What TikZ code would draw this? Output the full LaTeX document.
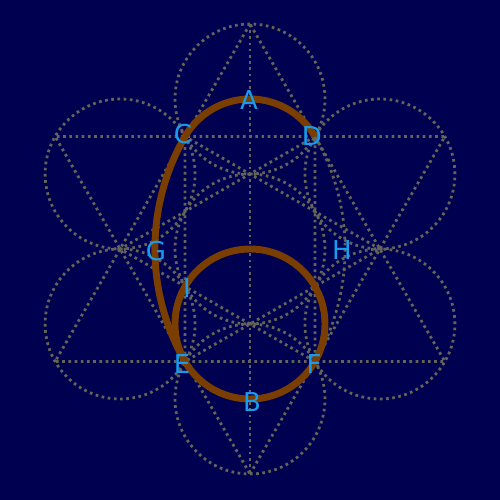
\documentclass[tikz,border=0pt]{standalone}
\usepackage{fontspec}
\newfontfamily\labelfont{DejaVu Sans}
\definecolor{bg}{RGB}{0,0,80}
\definecolor{dotgray}{RGB}{100,100,88}
\definecolor{eggbrown}{RGB}{122,62,0}
\definecolor{lblblue}{RGB}{26,156,236}
\begin{document}
\begin{tikzpicture}[x=0.75pt,y=0.75pt,
  guide/.style={draw=dotgray, line width=2.1pt, dash pattern=on 2.0pt off 2.65pt},
  egg/.style={draw=eggbrown, line width=5.2pt},
  lbl/.style={text=lblblue, font=\labelfont\fontsize{19.5}{19.5}\selectfont, inner sep=0pt}]
\fill[bg] (0,0) rectangle (500,500);
\useasboundingbox (0,0) rectangle (500,500);
\begin{scope}[shift={(250,251)}]
  % seven circles
  \draw[guide] (0,0) circle[radius=75];
  \foreach \a in {90,30,-30,-90,-150,150}
    \draw[guide] (\a:150) circle[radius=75];
  % outer hexagram
  \draw[guide] (90:225) -- (210:225) -- (330:225) -- cycle;
  \draw[guide] (270:225) -- (30:225) -- (150:225) -- cycle;
  % inner hexagram
  \draw[guide] (0:129.9) -- (120:129.9) -- (240:129.9) -- cycle;
  \draw[guide] (60:129.9) -- (180:129.9) -- (300:129.9) -- cycle;
  % axis
  \draw[guide] (90:225) -- (270:225);
  % large arcs
  \draw[guide] (60:129.9) arc[start angle=30, end angle=-30, radius=225];
  \draw[guide] (120:129.9) arc[start angle=150, end angle=210, radius=225];
  % egg
  \draw[egg] (60:129.9) arc[start angle=30, end angle=150, radius=75]
                        arc[start angle=150, end angle=210, radius=225];
  \draw[egg] (0,-75) circle[radius=75];
\end{scope}
\node[lbl] (A) at (249,400) {A};
\node[lbl] (B) at (252,98) {B};
\node[lbl] (C) at (183,366) {C};
\node[lbl] (D) at (312,364) {D};
\node[lbl] (E) at (182,136) {E};
\node[lbl] (F) at (314,136) {F};
\node[lbl] (G) at (156,249) {G};
\node[lbl] (H) at (342,250) {H};
\node[lbl] (I) at (187,212) {I};
\end{tikzpicture}
\end{document}
